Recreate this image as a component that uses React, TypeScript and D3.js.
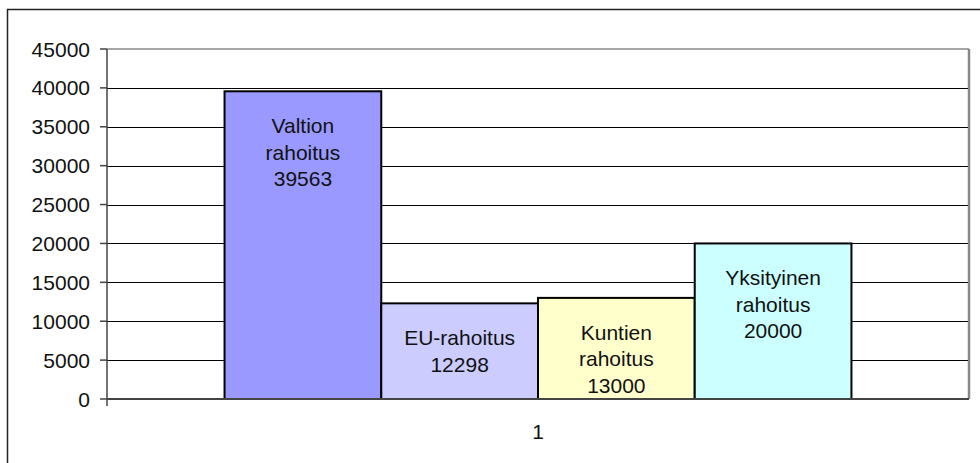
import React from 'react';
import * as d3 from 'd3';

const categories = ['1'];
const seriesNames = ['Valtion rahoitus', 'EU-rahoitus', 'Kuntien rahoitus', 'Yksityinen rahoitus'];
const seriesValues = [39563, 12298, 13000, 20000];
const labelLines = [
  ['Valtion', 'rahoitus'],
  ['EU-rahoitus'],
  ['Kuntien', 'rahoitus'],
  ['Yksityinen', 'rahoitus'],
];
const yTicks = [0, 5000, 10000, 15000, 20000, 25000, 30000, 35000, 40000, 45000];
const colors = ['#9999FF', '#CCCCFF', '#FFFFCC', '#CCFFFF'];

const W = 980;
const H = 463;
const plot = { left: 107, right: 969, top: 49, bottom: 399 };
const FONT = 'Arial, "Liberation Sans", sans-serif';

export default function App() {
  const y = d3.scaleLinear().domain([0, 45000]).range([plot.bottom, plot.top]);

  // category band, then the four series inside it (Excel gap width 150%)
  const x0 = d3.scaleBand().domain(categories).range([plot.left, plot.right]);
  const x1 = d3.scaleBand()
    .domain(seriesNames)
    .range([0, x0.bandwidth()])
    .paddingInner(0)
    .paddingOuter(0.75);

  const cat = categories[0];
  const cx = (x0(cat) ?? 0) + x0.bandwidth() / 2;

  return (
    <svg width={W} height={H} style={{ position: 'absolute', left: 0, top: 0 }} fontFamily={FONT}>
      <rect x={0} y={0} width={W} height={H} fill="#fff" />
      {/* outer chart frame */}
      <rect x={7.5} y={9.5} width={W + 20} height={H + 20} fill="none" stroke="#222" strokeWidth={1.5} />

      {/* plot area border */}
      <line x1={plot.left} x2={plot.right} y1={plot.top} y2={plot.top} stroke="#888" strokeWidth={1.5} />
      <line x1={plot.right} x2={plot.right} y1={plot.top} y2={plot.bottom} stroke="#888" strokeWidth={2.5} />

      {/* gridlines */}
      {yTicks.filter(t => t > 0 && t < 45000).map(t => (
        <line key={t} x1={plot.left} x2={plot.right - 1} y1={Math.round(y(t)) + 0.5} y2={Math.round(y(t)) + 0.5} stroke="#000" strokeWidth={1} />
      ))}

      {/* bars */}
      {seriesNames.map((s, i) => {
        const bx = (x0(cat) ?? 0) + (x1(s) ?? 0);
        const top = y(seriesValues[i]);
        return (
          <rect key={s} x={bx} y={top} width={x1.bandwidth()} height={plot.bottom - top}
            fill={colors[i]} stroke="#000" strokeWidth={2} />
        );
      })}

      {/* data labels */}
      {seriesNames.map((s, i) => {
        const bx = (x0(cat) ?? 0) + (x1(s) ?? 0) + x1.bandwidth() / 2;
        const top = y(seriesValues[i]);
        const lines = [...labelLines[i], String(seriesValues[i])];
        return (
          <text key={s} x={bx} y={top + 34} textAnchor="middle" fontSize={21} fill="#111" dominantBaseline="central">
            {lines.map((l, j) => (
              <tspan key={j} x={bx} dy={j === 0 ? 0 : 26.5}>{l}</tspan>
            ))}
          </text>
        );
      })}

      {/* axes */}
      <line x1={plot.left} x2={plot.left} y1={plot.top} y2={plot.bottom + 7} stroke="#444" strokeWidth={1.5} />
      <line x1={plot.left} x2={plot.right} y1={plot.bottom} y2={plot.bottom} stroke="#444" strokeWidth={2} />
      {yTicks.map(t => (
        <g key={t}>
          <line x1={plot.left - 7} x2={plot.left} y1={y(t)} y2={y(t)} stroke="#444" strokeWidth={1.5} />
          <text x={90} y={y(t)} textAnchor="end" dominantBaseline="central" fontSize={21} fill="#111">{t}</text>
        </g>
      ))}
      <text x={cx} y={431} textAnchor="middle" dominantBaseline="central" fontSize={21} fill="#111">{cat}</text>
    </svg>
  );
}
